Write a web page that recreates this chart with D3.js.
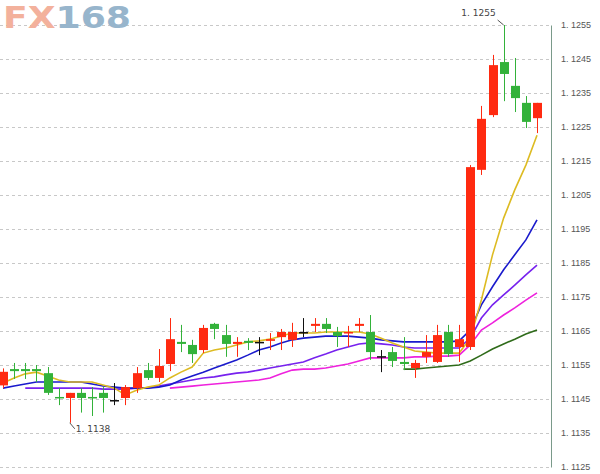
<!DOCTYPE html>
<html>
<head>
<meta charset="utf-8">
<script src="https://cdn.jsdelivr.net/npm/d3@7"></script>
<style>
  body { margin: 0; background: #fff; }
  svg { font-family: "DejaVu Sans", sans-serif; }
</style>
</head>
<body>
<svg width="600" height="474"></svg>
<script>
// candles: open, high, low, close
const opens  = [1.1149,1.11538,1.11538,1.11538,1.11526,1.11456,1.11453,1.11468,1.11456,1.11468,1.11447,1.11453,1.11482,1.11535,1.11512,1.11553,1.11618,1.11609,1.11594,1.11671,1.11638,1.11612,1.11621,1.11618,1.11621,1.11632,1.11624,1.11647,1.11665,1.11671,1.11647,1.11644,1.11665,1.11647,1.11576,1.11588,1.11559,1.11541,1.11574,1.11559,1.11647,1.11603,1.11603,1.12124,1.12285,1.12441,1.12371,1.12321,1.12276];
const highs  = [1.1154,1.11556,1.11556,1.1155,1.11544,1.11482,1.11468,1.11482,1.11485,1.11485,1.11497,1.11491,1.11544,1.11556,1.11597,1.11688,1.11668,1.11624,1.11668,1.11674,1.11668,1.11632,1.11629,1.11632,1.11644,1.11656,1.11674,1.11688,1.11688,1.11688,1.11662,1.11665,1.11688,1.11697,1.11594,1.11603,1.11632,1.11565,1.11638,1.11668,1.11668,1.11668,1.12138,1.12312,1.12462,1.1255,1.12453,1.12341,1.12321];
const lows   = [1.11482,1.11509,1.11509,1.1150,1.11462,1.11432,1.1138,1.1141,1.1140,1.1141,1.11432,1.11432,1.11468,1.11506,1.1150,1.11532,1.11588,1.11556,1.11585,1.11626,1.11574,1.11574,1.11594,1.11579,1.11594,1.11594,1.11603,1.11632,1.11647,1.11644,1.11603,1.11603,1.11647,1.11565,1.11529,1.11544,1.11535,1.11512,1.11556,1.11556,1.11574,1.11559,1.11594,1.12109,1.12279,1.12326,1.12294,1.12247,1.12232];
const closes = [1.1153,1.11532,1.11532,1.11532,1.11468,1.11453,1.11468,1.11453,1.11453,1.11453,1.11447,1.11485,1.11526,1.11512,1.11547,1.11626,1.11612,1.11582,1.11659,1.11656,1.11612,1.11618,1.11615,1.11618,1.11626,1.11647,1.11647,1.11647,1.11671,1.11656,1.11635,1.11647,1.11671,1.11588,1.11576,1.11562,1.11553,1.11556,1.11588,1.11638,1.11582,1.11626,1.12132,1.12274,1.12432,1.12406,1.12335,1.12265,1.12321];

// moving averages (null = not drawn)
const maYellow = [1.11497,1.11512,1.11524,1.11529,1.11518,1.11506,1.115,1.115,1.115,1.11491,1.11482,1.11462,1.11476,1.11485,1.11491,1.11512,1.11529,1.11544,1.11585,1.11594,1.116,1.11609,1.11618,1.11621,1.11626,1.11635,1.11644,1.11644,1.11644,1.11647,1.11647,1.11647,1.11647,1.11641,1.11629,1.11615,1.11603,1.11591,1.11588,1.11585,1.11585,1.11585,1.11629,1.11741,1.11874,1.11982,1.12065,1.12138,1.12226];
const maBlue = [1.11482,1.11488,1.11494,1.115,1.115,1.115,1.115,1.115,1.11494,1.11488,1.11485,1.11482,1.11482,1.11482,1.11485,1.11491,1.11506,1.11518,1.11529,1.11541,1.11553,1.11565,1.11579,1.11594,1.11603,1.11615,1.11624,1.11629,1.11632,1.11635,1.11635,1.11635,1.11632,1.11629,1.11624,1.11621,1.11618,1.11618,1.11618,1.11618,1.11618,1.11621,1.11653,1.11727,1.1178,1.1183,1.11874,1.11918,1.11977];
const maViolet = [null,null,1.11482,1.11482,1.11482,1.11482,1.11482,1.11482,1.11482,1.11479,1.11479,1.11479,1.11482,1.11482,1.11488,1.11494,1.115,1.11506,1.11512,1.11515,1.11521,1.11526,1.11529,1.11535,1.11541,1.11547,1.11553,1.11559,1.11571,1.11582,1.11594,1.11603,1.11612,1.11615,1.11612,1.11609,1.11603,1.116,1.116,1.116,1.116,1.116,1.11629,1.11688,1.11727,1.11756,1.11785,1.11815,1.11844];
const maMagenta = [null,null,null,null,null,null,null,null,null,null,null,null,null,null,null,1.11482,1.11485,1.11488,1.11491,1.11494,1.11497,1.115,1.11503,1.11506,1.11512,1.11524,1.11535,1.11538,1.11538,1.11541,1.11547,1.11553,1.11562,1.11571,1.11571,1.11571,1.11571,1.11574,1.11574,1.11576,1.11576,1.11579,1.11609,1.11653,1.11674,1.11697,1.11718,1.11741,1.11762];
const maGreen = [null,null,null,null,null,null,null,null,null,null,null,null,null,null,null,null,null,null,null,null,null,null,null,null,null,null,null,null,null,null,null,null,null,null,null,null,1.11538,1.11538,1.11541,1.11544,1.11547,1.1155,1.11562,1.11579,1.11597,1.11612,1.11626,1.11641,1.11653];

const tickValues = d3.range(13, -1, -1).map(i => +(1.1125 + i * 0.001).toFixed(4));

const svg = d3.select("svg");
const plotRight = 551;

const x = d3.scaleLinear().domain([0, 48]).range([3, 537]);
const y = d3.scaleLinear().domain([1.1125, 1.1255]).range([467, 25]);
const fmt = v => v.toFixed(4).replace(".", ". ");

// grid
svg.append("g")
    .selectAll("line")
    .data(tickValues)
    .enter()
    .append("line")
    .attr("x1", 0)
    .attr("x2", plotRight)
    .attr("y1", d => Math.round(y(d)) + 0.5)
    .attr("y2", d => Math.round(y(d)) + 0.5)
    .attr("stroke", "#c8c8c8")
    .attr("stroke-dasharray", "3,3");

// logo
const logo = svg.append("text")
    .attr("x", 3)
    .attr("y", 28)
    .attr("textLength", 128)
    .attr("lengthAdjust", "spacingAndGlyphs")
    .style("font-family", "'DejaVu Sans', sans-serif")
    .style("font-size", "31px")
    .style("font-weight", "bold");
logo.append("tspan").attr("fill", "#f3b19c").text("FX");
logo.append("tspan").attr("fill", "#97b5cc").text("168");

// right axis
const axis = svg.append("g")
    .attr("transform", "translate(" + plotRight + ",0)")
    .call(d3.axisRight(y).tickValues(tickValues).tickFormat(fmt).tickSize(0).tickPadding(10));
axis.select(".domain").attr("stroke", "#7a9a8a");
axis.selectAll("text")
    .attr("fill", "#555")
    .style("font-size", "9px");

// moving averages
const line = d3.line()
    .defined(d => d != null)
    .x((d, i) => x(i))
    .y(d => y(d));

[[maGreen, "#2f6b1a"], [maMagenta, "#ee22dd"], [maViolet, "#7722ee"], [maBlue, "#1a1acc"], [maYellow, "#ddbb22"]]
  .forEach(([data, color]) => {
    svg.append("path")
        .datum(data)
        .attr("fill", "none")
        .attr("stroke", color)
        .attr("stroke-width", 1.6)
        .attr("d", line);
  });

// candles
const candles = opens.map((o, i) => ({ i, o, h: highs[i], l: lows[i], c: closes[i] }));
const colorOf = d => Math.abs(d.c - d.o) < 0.00002 ? "#111" : (d.c > d.o ? "#ff2a10" : "#33b23a");

const g = svg.append("g").selectAll("g").data(candles).enter().append("g");
g.append("line")
    .attr("x1", d => Math.round(x(d.i)) + 0.5)
    .attr("x2", d => Math.round(x(d.i)) + 0.5)
    .attr("y1", d => y(d.h))
    .attr("y2", d => y(d.l))
    .attr("stroke", colorOf)
    .attr("stroke-width", 1);
g.append("rect")
    .attr("x", d => Math.round(x(d.i)) - 4)
    .attr("width", 9)
    .attr("y", d => y(Math.max(d.o, d.c)))
    .attr("height", d => Math.max(1.5, y(Math.min(d.o, d.c)) - y(Math.max(d.o, d.c))))
    .attr("fill", colorOf);

// high / low notes
const hiIdx = d3.maxIndex(highs), loIdx = d3.minIndex(lows);
svg.append("path")
    .attr("d", "M" + (x(hiIdx) - 6) + "," + (y(highs[hiIdx]) - 5) + "L" + x(hiIdx) + "," + y(highs[hiIdx]))
    .attr("stroke", "#555").attr("fill", "none");
svg.append("text")
    .attr("x", x(hiIdx) - 8).attr("y", y(highs[hiIdx]) - 9)
    .attr("text-anchor", "end")
    .style("font-size", "9px").attr("fill", "#444")
    .text(fmt(highs[hiIdx]));
svg.append("path")
    .attr("d", "M" + x(loIdx) + "," + y(lows[loIdx]) + "L" + (x(loIdx) + 5) + "," + (y(lows[loIdx]) + 6))
    .attr("stroke", "#555").attr("fill", "none");
svg.append("text")
    .attr("x", x(loIdx) + 6).attr("y", y(lows[loIdx]) + 9)
    .style("font-size", "9px").attr("fill", "#444")
    .text(fmt(lows[loIdx]));
</script>
</body>
</html>
